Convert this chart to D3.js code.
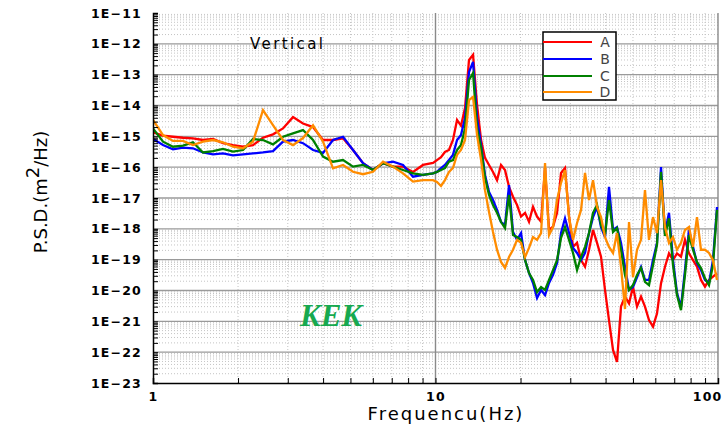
<!DOCTYPE html>
<html><head><meta charset="utf-8">
<script src="https://cdn.jsdelivr.net/npm/d3@7"></script>
<style>
body{margin:0;background:#fff;}
svg{display:block;}
</style></head><body>
<svg id="chart" width="723" height="427"></svg>
<script>
// ---------------- data ----------------
const freqHz = [1.00,1.085,1.177,1.277,1.385,1.503,1.631,1.769,1.919,2.083,2.259,2.451,2.659,2.885,3.130,3.396,3.685,3.998,4.337,4.706,5.105,5.539,6.009,6.520,7.073,7.674,8.326,9.033,9.800,
10.12,10.46,10.80,11.16,11.53,11.92,12.31,12.72,13.14,13.58,14.03,14.50,14.97,15.47,15.98,16.51,17.06,17.62,18.21,18.81,19.44,20.08,20.75,21.43,22.14,22.88,23.64,24.42,25.23,26.06,26.93,27.82,28.74,29.70,30.68,31.70,32.75,33.83,34.95,36.11,37.31,38.54,39.81,41.13,42.50,43.90,45.36,46.86,48.42,50.02,51.68,53.39,55.15,56.98,58.88,60.82,62.84,64.92,67.07,69.30,71.59,73.96,76.41,78.94,81.56,84.26,87.05,89.94,92.92,96.00,99.20];

const seriesA = [1.35e-15,1.05e-15,9.7e-16,9.0e-16,8.6e-16,7.6e-16,8.2e-16,6.0e-16,5.2e-16,4.6e-16,5.2e-16,9.0e-16,1.16e-15,1.8e-15,4.2e-15,2.6e-15,2.0e-15,7.6e-16,7.6e-16,8.6e-16,3.6e-16,1.34e-16,8.1e-17,1.34e-16,1.04e-16,1.04e-16,7.0e-17,1.18e-16,1.37e-16,
1.7e-16,2.1e-16,3.1e-16,3.6e-16,7.6e-16,3.4e-15,2.2e-15,8.3e-15,3.0e-13,4.4e-13,
1.04e-14,7.6e-16,2.0e-16,1.18e-16,7.0e-17,3.8e-17,1.18e-16,8.1e-17,2.3e-17,1.1e-17,
5.9e-18,2.5e-18,3.3e-18,1.7e-18,5.2e-18,2.5e-18,1.7e-18,9.4e-17,9.2e-19,1.17e-18,
3.3e-18,6.5e-17,9.4e-17,2.5e-18,2.6e-19,3.5e-19,9.7e-20,5.9e-20,2.1e-19,9.2e-19,
3.5e-19,1.25e-19,1.04e-20,1.1e-21,1.18e-22,4.8e-23,3.0e-21,6.3e-21,3.8e-21,1.33e-20,
3.0e-21,6.3e-21,3.0e-21,1.1e-21,6.7e-22,1.8e-21,1.7e-20,5.9e-20,1.6e-19,9.7e-20,
1.6e-19,1.25e-19,4.4e-19,1.6e-19,9.7e-20,5.9e-20,2.2e-20,1.33e-20,2.2e-20,2.8e-20,3.6e-20];

const seriesB = [8.2e-16,5.2e-16,3.8e-16,4.3e-16,4.1e-16,3.0e-16,2.6e-16,2.8e-16,2.4e-16,2.6e-16,2.8e-16,3.0e-16,3.3e-16,6.7e-16,7.6e-16,6.0e-16,3.6e-16,2.9e-16,7.6e-16,9.7e-16,3.6e-16,1.34e-16,8.1e-17,1.34e-16,1.5e-16,1.18e-16,4.9e-17,5.6e-17,6.3e-17,
7.0e-17,9.4e-17,1.18e-16,1.7e-16,2.5e-16,7.6e-16,1.1e-15,3.9e-15,1.22e-13,2.6e-13,
3.9e-15,5.2e-16,5.6e-17,1.57e-17,8.6e-18,4.1e-18,1.66e-18,1.33e-18,2.6e-17,7.9e-19,
4.4e-19,7.3e-19,9.7e-20,3.7e-20,1.75e-20,5.7e-21,1.04e-20,7.1e-21,1.75e-20,3.2e-20,
7.8e-20,7.3e-19,2.2e-18,7.3e-19,2.4e-19,1.65e-19,9.7e-20,1.65e-19,7.3e-19,2.4e-18,
5.1e-18,1.14e-18,5.4e-19,2.3e-17,9.2e-19,1.14e-18,3.5e-19,5.8e-20,1.04e-20,1.3e-20,
2.7e-20,5.8e-20,2.2e-20,2.2e-20,9.7e-20,3.5e-19,1.0e-16,7.3e-19,3.3e-18,9.7e-20,
8.3e-21,2.9e-21,4.6e-20,9.2e-19,2.6e-19,7.8e-20,4.6e-20,2.2e-20,1.75e-20,9.7e-20,5.1e-18];

const seriesC = [1.8e-15,6.7e-16,4.6e-16,5.0e-16,6.4e-16,3.0e-16,3.3e-16,3.9e-16,3.2e-16,3.6e-16,8.2e-16,7.6e-16,5.5e-16,9.7e-16,1.25e-15,1.6e-15,7.6e-16,2.2e-16,1.5e-16,1.7e-16,1.04e-16,1.18e-16,8.1e-17,1.34e-16,1.04e-16,8.1e-17,6.3e-17,5.6e-17,6.3e-17,
7.0e-17,8.1e-17,9.4e-17,1.5e-16,1.7e-16,3.6e-16,5.2e-16,1.8e-15,6.7e-14,1.13e-13,
1.8e-15,4.2e-16,4.5e-17,1.25e-17,5.9e-18,3.3e-18,1.66e-18,1.06e-18,1.25e-17,6.3e-19,
5.4e-19,4.4e-19,9.7e-20,3.7e-20,2.2e-20,8.9e-21,1.3e-20,1.04e-20,2.2e-20,4.6e-20,
9.7e-20,5.1e-19,1.14e-18,4.4e-19,1.65e-19,4.6e-20,1.22e-19,2.6e-19,7.3e-19,3.3e-18,
5.9e-18,1.33e-18,6.3e-19,8.6e-18,7.9e-19,1.06e-18,2.1e-19,3.2e-20,1.04e-20,1.5e-20,
3.2e-20,5.4e-20,1.9e-20,1.5e-20,6.7e-20,3.0e-19,7.0e-17,5.9e-19,2.2e-18,6.7e-20,
7.1e-21,2.3e-21,3.2e-20,6.3e-19,2.1e-19,8.4e-20,5.4e-20,2.5e-20,1.5e-20,6.7e-20,4.1e-18];

const seriesD = [3.4e-15,1.1e-15,7.1e-16,7.1e-16,5.2e-16,6.7e-16,7.6e-16,6.4e-16,4.6e-16,4.1e-16,6.7e-16,7.1e-15,2.3e-15,7.6e-16,5.2e-16,8.8e-16,2.3e-15,6.7e-16,9.2e-17,1.18e-16,7.1e-17,5.9e-17,7.1e-17,1.5e-16,1.04e-16,6.3e-17,3.4e-17,3.8e-17,3.8e-17,
3.3e-17,2.45e-17,3.8e-17,7.0e-17,9.4e-17,2.5e-16,3.6e-16,7.6e-16,1.5e-14,1.9e-14,
1.1e-15,1.7e-16,1.8e-17,3.5e-18,7.9e-19,2.1e-19,8.4e-20,5.4e-20,1.22e-19,2.1e-19,
4.4e-19,3.5e-19,1.22e-19,2.4e-19,5.4e-19,4.4e-19,7.3e-19,1.37e-16,6.3e-19,1.14e-18,
8.6e-18,3.1e-17,8.1e-17,2.4e-18,4.4e-19,1.55e-18,4.1e-18,6.5e-17,8.6e-18,3.8e-17,
5.1e-18,2.4e-18,5.4e-19,2.6e-19,1.65e-19,7.3e-19,5.8e-20,2.5e-21,1.66e-18,2.7e-20,
2.1e-19,4.4e-19,1.8e-17,4.4e-19,2.4e-18,7.3e-19,3.8e-17,1.14e-18,3.5e-19,5.4e-19,
2.1e-19,3.5e-19,9.2e-19,1.14e-18,2.6e-19,2.4e-18,2.1e-19,2.1e-19,1.65e-19,9.7e-20,2.2e-20];

const seriesNames = ["A","B","C","D"];
const seriesColors = ["#ff0000","#0000ff","#008000","#ff8c00"];
const yTickValues = [1e-11,1e-12,1e-13,1e-14,1e-15,1e-16,1e-17,1e-18,1e-19,1e-20,1e-21,1e-22,1e-23];
const yTickLabels = ["1E\u221211","1E\u221212","1E\u221213","1E\u221214","1E\u221215","1E\u221216","1E\u221217","1E\u221218","1E\u221219","1E\u221220","1E\u221221","1E\u221222","1E\u221223"];
const xTickValues = [1,10,100];
const xTickLabels = ["1","10","100"];

// ---------------- chart ----------------
const svg = d3.select("#chart");
const L = 153, R = 718, T = 13, B = 383;
const x = d3.scaleLog().domain([1,100]).range([L,R]);
const y = d3.scaleLog().domain([1e-23,1e-11]).range([B,T]);

const minorY = [];
for (let e = -23; e < -11; e++) for (let k = 2; k <= 9; k++) minorY.push(k * Math.pow(10, e));
const minorX = [];
for (const d of [1,10]) for (let k = 2; k <= 9; k++) minorX.push(k * d);

const grid = svg.append("g");
grid.selectAll(".mx").data(minorX).join("line")
  .attr("x1", d => x(d)).attr("x2", d => x(d)).attr("y1", T).attr("y2", B)
  .attr("stroke", "#c4c4c4").attr("stroke-width", 1).attr("stroke-dasharray", "1,2");
grid.selectAll(".my").data(minorY).join("line")
  .attr("x1", L).attr("x2", R).attr("y1", d => y(d)).attr("y2", d => y(d))
  .attr("stroke", "#c4c4c4").attr("stroke-width", 1).attr("stroke-dasharray", "1,2");
grid.selectAll(".My").data(yTickValues.filter(v => v < 1e-11 && v > 1e-23)).join("line")
  .attr("x1", L).attr("x2", R).attr("y1", d => y(d)).attr("y2", d => y(d))
  .attr("stroke", "#9a9a9a").attr("stroke-width", 1.4);
grid.selectAll(".Mx").data([10,100]).join("line")
  .attr("x1", d => x(d)).attr("x2", d => x(d)).attr("y1", T).attr("y2", B)
  .attr("stroke", "#8a8a8a").attr("stroke-width", 1.4);

// clip
svg.append("clipPath").attr("id","clip").append("rect")
  .attr("x", L).attr("y", T).attr("width", R - L + 4).attr("height", B - T);

const line = d3.line().x((d, i) => x(freqHz[i])).y(d => y(d));
const allSeries = [seriesA, seriesB, seriesC, seriesD];
const plot = svg.append("g").attr("clip-path", "url(#clip)");
allSeries.forEach((s, i) => {
  plot.append("path").datum(s).attr("d", line)
    .attr("fill", "none").attr("stroke", seriesColors[i])
    .attr("stroke-width", 2.3).attr("stroke-linejoin", "miter");
});

// axes
const fontTick = "'DejaVu Sans', sans-serif";
const yAxis = d3.axisLeft(y).tickValues(yTickValues.concat(minorY)).tickSize(-5)
  .tickFormat(d => { const i = yTickValues.indexOf(d); return i >= 0 ? yTickLabels[i] : ""; });
const gy = svg.append("g").attr("transform", `translate(${L},0)`).call(yAxis);
gy.select(".domain").attr("stroke", "#000").attr("stroke-width", 1.5);
gy.selectAll(".tick line").attr("stroke", "#000");
gy.selectAll(".tick text").attr("x", -11).attr("font-family", fontTick)
  .attr("font-weight", "bold").attr("font-size", 12.5).attr("letter-spacing", 1.2).attr("fill", "#000");

const xAxis = d3.axisBottom(x).tickValues(xTickValues.concat(minorX)).tickSize(-5)
  .tickFormat(d => { const i = xTickValues.indexOf(d); return i >= 0 ? xTickLabels[i] : ""; });
const gx = svg.append("g").attr("transform", `translate(0,${B})`).call(xAxis);
gx.select(".domain").attr("stroke", "#000").attr("stroke-width", 1.5);
gx.selectAll(".tick line").attr("stroke", "#000");
gx.selectAll(".tick text").attr("y", 9).attr("font-family", fontTick)
  .attr("font-weight", "bold").attr("font-size", 12.5).attr("letter-spacing", 1.2).attr("fill", "#000");
// keep the last label inside the window
gx.selectAll(".tick text").filter(d => d === 100)
  .attr("text-anchor", "end").attr("x", 722 - x(100));

// titles
svg.append("text").attr("x", 446).attr("y", 420).attr("text-anchor", "middle")
  .attr("font-family", fontTick).attr("font-size", 18).attr("letter-spacing", 2)
  .text("Frequencu(Hz)");

const yt = svg.append("text").attr("transform", "translate(47,192) rotate(-90)")
  .attr("text-anchor", "middle").attr("font-family", fontTick).attr("font-size", 18);
yt.append("tspan").text("P.S.D.(m");
yt.append("tspan").attr("dy", -8).text("2");
yt.append("tspan").attr("dy", 8).text("/Hz)");

svg.append("text").attr("x", 250).attr("y", 49)
  .attr("font-family", fontTick).attr("font-size", 15).attr("letter-spacing", 2.4)
  .text("Vertical");

svg.append("text").attr("x", 300).attr("y", 326)
  .attr("font-family", "'Liberation Serif', 'Times New Roman', serif")
  .attr("font-weight", "bold").attr("font-style", "italic").attr("font-size", 31)
  .attr("fill", "#17a94f").text("KEK");

// legend
const lg = svg.append("g");
lg.append("rect").attr("x", 543).attr("y", 32).attr("width", 73).attr("height", 68)
  .attr("fill", "#fff").attr("stroke", "#000").attr("stroke-width", 1.5);
const legY = [42, 59, 76, 92];
seriesNames.forEach((n, i) => {
  lg.append("line").attr("x1", 543).attr("x2", 592).attr("y1", legY[i]).attr("y2", legY[i])
    .attr("stroke", seriesColors[i]).attr("stroke-width", 2);
  lg.append("text").attr("x", 605).attr("y", legY[i] + 5).attr("text-anchor", "middle")
    .attr("font-family", fontTick).attr("font-size", 14).attr("fill", "#444").text(n);
});
</script>
</body></html>
